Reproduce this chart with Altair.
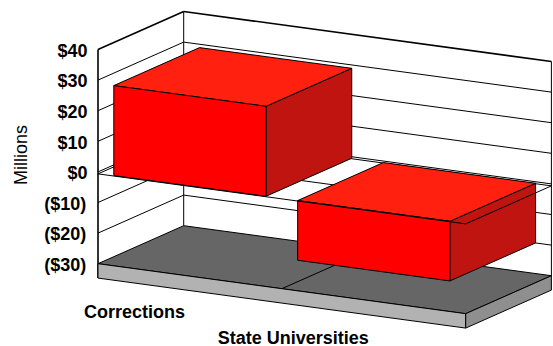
import altair as alt
import pandas as pd

categories = ["Corrections", "State Universities"]
values = [28.9, -20.0]
tick_values = [40, 30, 20, 10, 0, -10, -20, -30]
tick_labels = ["$40", "$30", "$20", "$10", "$0", "($10)", "($20)", "($30)"]
y_title = "Millions"

W, H = 553, 346
FONT = "Liberation Sans"
SIZE = 18

# Oblique projection of (category position, value in $M, depth 0..1) to the canvas
ORIGIN_X, ORIGIN_Y = 98.0, 171.9
CAT_DX, CAT_DY = 183.85, 25.0
DEPTH_DX, DEPTH_DY = 85.7, -38.0
PX_PER_M = 3.06

V_TOP, V_FLOOR, V_PLINTH = 40, -30, -34.7
V_BASE = -0.5        # underside of the zero slab, where the bars sit
V_SLAB = -0.65
BAR_HALF = 0.414
N = len(categories)


def proj(c, v, d):
    return (ORIGIN_X + c * CAT_DX + d * DEPTH_DX,
            ORIGIN_Y - v * PX_PER_M + c * CAT_DY + d * DEPTH_DY)


x_scale = alt.Scale(domain=[0, W], nice=False, zero=False)
y_scale = alt.Scale(domain=[H, 0], nice=False, zero=False)
X = alt.X("x:Q", scale=x_scale, axis=None)
Y = alt.Y("y:Q", scale=y_scale, axis=None)


def face(points, fill):
    """Convex polygon as an area: lower and upper envelope at each vertex x."""
    xs = sorted({round(p[0], 3) for p in points})
    rows = []
    for x in xs:
        ys = []
        for (x0, y0), (x1, y1) in zip(points, points[1:] + points[:1]):
            lo, hi = min(x0, x1), max(x0, x1)
            if lo - 1e-3 <= x <= hi + 1e-3:
                if abs(x1 - x0) < 1e-3:
                    ys += [y0, y1]
                else:
                    ys.append(y0 + (y1 - y0) * (x - x0) / (x1 - x0))
        rows.append({"x": x, "y": min(ys), "y2": max(ys)})
    return alt.Chart(pd.DataFrame(rows)).mark_area(
        fill=fill, stroke="#000000", strokeWidth=1, opacity=1
    ).encode(x=X, y=Y, y2="y2:Q")


def lines(segments, width=1.0):
    rows = [{"x": a[0], "y": a[1], "x2": b[0], "y2": b[1]} for a, b in segments]
    return alt.Chart(pd.DataFrame(rows)).mark_rule(
        stroke="#000000", strokeWidth=width
    ).encode(x=X, y=Y, x2="x2:Q", y2="y2:Q")


def labels(rows, align="center", angle=0, bold=True):
    return alt.Chart(pd.DataFrame(rows)).mark_text(
        font=FONT, fontSize=SIZE, fontWeight="bold" if bold else "normal",
        align=align, baseline="middle", angle=angle, color="#000000"
    ).encode(x=X, y=Y, text="t:N")


layers = []

# Walls: grid lines on the left and back planes
grid = []
for v in tick_values[1:-1]:
    if v == 0:
        continue
    grid += [(proj(0, v, 0), proj(0, v, 1)), (proj(0, v, 1), proj(N, v, 1))]
layers.append(lines(grid))

# Zero slab, the part lying against the walls
slab_back = []
for v in (0, V_SLAB):
    slab_back += [(proj(0, v, 0), proj(0, v, 1)), (proj(0, v, 1), proj(N, v, 1))]
layers.append(lines(slab_back))

# Wall outline
layers.append(lines([
    (proj(0, V_TOP, 1), proj(0, V_FLOOR, 1)),
    (proj(N, V_TOP, 1), proj(N, V_FLOOR, 1)),
]))
layers.append(lines([
    (proj(0, V_TOP, 0), proj(0, V_PLINTH, 0)),
    (proj(0, V_TOP, 0), proj(0, V_TOP, 1)),
    (proj(0, V_TOP, 1), proj(N, V_TOP, 1)),
], width=1.6))

# Floor and plinth
layers.append(face([proj(0, V_FLOOR, 0), proj(N, V_FLOOR, 0),
                    proj(N, V_FLOOR, 1), proj(0, V_FLOOR, 1)], "#666666"))
layers.append(lines([(proj(c, V_FLOOR, 0), proj(c, V_FLOOR, 1)) for c in range(1, N)]))
layers.append(face([proj(0, V_FLOOR, 0), proj(N, V_FLOOR, 0),
                    proj(N, V_PLINTH, 0), proj(0, V_PLINTH, 0)], "#b2b2b2"))
layers.append(face([proj(N, V_FLOOR, 0), proj(N, V_FLOOR, 1),
                    proj(N, V_PLINTH, 1), proj(N, V_PLINTH, 0)], "#8f8f8f"))

# Bars
for i, val in enumerate(values):
    c0, c1 = i + 0.5 - BAR_HALF, i + 0.5 + BAR_HALF
    hi, lo = max(val, V_BASE), min(val, V_BASE)
    layers.append(face([proj(c1, hi, 0), proj(c1, hi, 1),
                        proj(c1, lo, 1), proj(c1, lo, 0)], "#c01410"))
    layers.append(face([proj(c0, hi, 0), proj(c1, hi, 0),
                        proj(c1, hi, 1), proj(c0, hi, 1)], "#ff2010"))
    layers.append(face([proj(c0, hi, 0), proj(c1, hi, 0),
                        proj(c1, lo, 0), proj(c0, lo, 0)], "#ff0000"))

# Zero slab, the edges that pass in front of the bars
layers.append(lines([
    (proj(0, V_SLAB, 0), proj(N, V_SLAB, 0)),
    (proj(N, V_SLAB, 0), proj(N, V_SLAB, 1)),
]))

# Text
layers.append(labels(
    [{"x": 86.2 if t.startswith("(") else 87.5, "y": proj(0, v, 0)[1] + 2.2, "t": t}
     for v, t in zip(tick_values, tick_labels)],
    align="right",
))
layers.append(labels([{"x": 22, "y": 155, "t": y_title}], angle=270, bold=False))
cat_pos = [(134.5, 313.3), (293.3, 339)]
layers.append(labels(
    [{"x": p[0], "y": p[1], "t": t} for p, t in zip(cat_pos, categories)]
))

chart = alt.layer(*layers).properties(
    width=W, height=H,
    padding=0,
    autosize=alt.AutoSizeParams(type="none"),
    background="#ffffff",
).configure_view(stroke=None)

chart.save("out.html", embed_options={"renderer": "svg", "actions": False})
